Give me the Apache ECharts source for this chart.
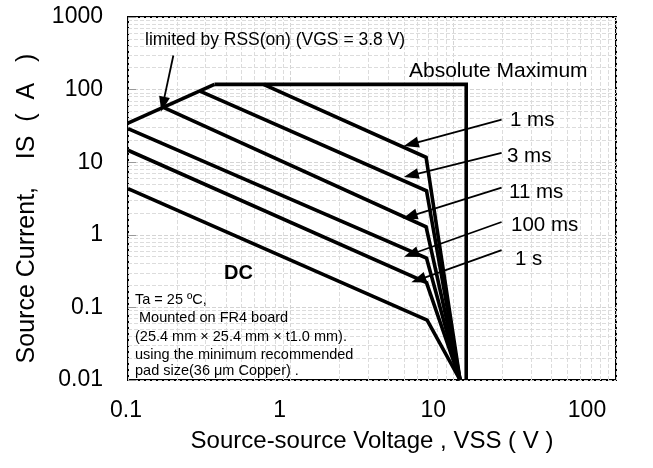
<!DOCTYPE html>
<html>
<head>
<meta charset="utf-8">
<script src="https://cdn.jsdelivr.net/npm/echarts/dist/echarts.min.js"></script>
<style>
  html, body { margin: 0; padding: 0; background: #fff; }
  #main { width: 653px; height: 468px; }
</style>
</head>
<body>
<div id="main"></div>
<script>
// safe operating area (V, A)
const rssLimit = [[0.1, 34.5], [0.34, 118]];
const absMax = [[0.34, 118], [12, 118], [12, 0.01]];
const pulse1ms = [[0.68, 118], [6.8, 11.7], [11, 0.01]];
const pulse3ms = [[0.277, 95.5], [6.84, 4.04], [11, 0.01]];
const pulse11ms = [[0.165, 57], [6.8, 1.29], [11, 0.01]];
const pulse100ms = [[0.1, 29], [6.84, 0.477], [11, 0.01]];
const pulse1s = [[0.1, 14.6], [6.84, 0.219], [11, 0.01]];
const pulseDC = [[0.1, 4.33], [6.9, 0.0669], [11, 0.01]];

const xDecades = [0.1, 1, 10, 100];
const yDecades = [0.01, 0.1, 1, 10, 100, 1000];
const minorSteps = [2, 3, 4, 5, 6, 7, 8, 9];

// arrows: [tail, tip] in data coords
const arrowRss = [[0.19, 295], [0.164, 63]];
const arrowPulse = [
  [[19.8, 38.5], [5.5, 17.8]],
  [[19.8, 13.4], [5.5, 6.6]],
  [[19.8, 4.48], [5.4, 1.8]],
  [[19.8, 1.5], [5.5, 0.54]],
  [[19.8, 0.614], [6.1, 0.24]],
];
const pulseLabels = ["1 ms", "3 ms", "11 ms", "100 ms", "1 s"];
const noteLines = [
  "Ta = 25 ºC,",
  " Mounted on FR4 board",
  "(25.4 mm × 25.4 mm × t1.0 mm).",
  "using the minimum recommended",
  "pad size(36 μm Copper) .",
];

const FONT = "'Liberation Sans', Arial, sans-serif";

let minorX = [];
xDecades.slice(0, 3).forEach(function (d) {
  minorSteps.forEach(function (s) { minorX.push({ xAxis: d * s }); });
});
let minorY = [];
yDecades.slice(0, 5).forEach(function (d) {
  minorSteps.forEach(function (s) { minorY.push({ yAxis: d * s }); });
});

function curve(data) {
  return {
    type: "line",
    data: data,
    symbol: "none",
    silent: true,
    z: 3,
    lineStyle: { color: "#000", width: 3.6, join: "miter" },
  };
}

function fmt(v) {
  return String(Number(v.toPrecision(3)));
}

// x labels sit a bit left of their ticks in the original
const xLabelShift = [4, 22, 40, 58];
let xRich = {};
xLabelShift.forEach(function (s, i) {
  xRich["l" + i] = { fontSize: 23, fontFamily: FONT, color: "#000", padding: [0, s, 0, 0] };
});

function txt(x, y, text, font) {
  return {
    type: "text", x: x, y: y, z: 10,
    style: { text: text, font: font, fill: "#000", textVerticalAlign: "middle" },
  };
}

let pulseTexts = [[510, 120], [507, 156], [509, 192], [511, 225], [515, 259]].map(function (p, i) {
  return txt(p[0], p[1], pulseLabels[i], "20.5px " + FONT);
});
let noteTexts = [300, 317.5, 336.5, 355, 371].map(function (y, i) {
  return txt(135, y, noteLines[i], "14.5px " + FONT);
});

let chart = echarts.init(document.getElementById("main"));
chart.setOption({
  backgroundColor: "#fff",
  animation: false,
  grid: {
    left: 128, top: 17, width: 488, height: 363,
    show: true, borderColor: "#000", borderWidth: 2, backgroundColor: "#fff",
  },
  xAxis: {
    type: "log",
    logBase: 10,
    min: 0.1,
    max: 100,
    name: "Source-source Voltage , VSS ( V )",
    nameLocation: "middle",
    nameGap: 49,
    nameTextStyle: { fontSize: 24, fontFamily: FONT, color: "#000" },
    axisLine: { show: false },
    axisTick: { show: false },
    axisLabel: {
      margin: 19,
      formatter: function (v) {
        let k = Math.round(Math.log10(v));
        return "{l" + (k + 1) + "|" + fmt(v) + "}";
      },
      rich: xRich,
    },
    splitLine: { show: true, lineStyle: { color: "#d4d4d4", width: 1, type: [4, 2] } },
  },
  yAxis: {
    type: "log",
    logBase: 10,
    min: 0.01,
    max: 1000,
    name: "Source Current,    IS  (  A   )",
    nameLocation: "middle",
    nameGap: 88,
    nameTextStyle: { fontSize: 25, fontFamily: FONT, color: "#000", padding: [0, 20, 0, 0] },
    axisLine: { show: false },
    axisTick: { show: true, inside: true, length: 8, lineStyle: { color: "#999" } },
    axisLabel: { margin: 25, fontSize: 23, fontFamily: FONT, color: "#000", formatter: fmt },
    splitLine: { show: true, lineStyle: { color: "#d4d4d4", width: 1, type: [4, 2] } },
  },
  series: [
    {
      type: "line",
      data: [],
      silent: true,
      z: 1,
      markLine: {
        silent: true,
        z: 1,
        symbol: ["none", "none"],
        label: { show: false },
        lineStyle: { color: "#dcdcdc", width: 1, type: [4, 2] },
        data: minorX.concat(minorY),
      },
    },
    curve(rssLimit),
    curve(absMax),
    curve(pulse1ms),
    curve(pulse3ms),
    curve(pulse11ms),
    curve(pulse100ms),
    curve(pulse1s),
    curve(pulseDC),
    {
      type: "line",
      data: [],
      silent: true,
      markLine: {
        silent: true,
        z: 6,
        symbol: ["none", "triangle"],
        symbolSize: [11, 15],
        label: { show: false },
        itemStyle: { color: "#000" },
        lineStyle: { color: "#000", width: 1.8, type: "solid" },
        data: [arrowRss].concat(arrowPulse).map(function (a) {
          return [{ coord: a[0] }, { coord: a[1] }];
        }),
      },
    },
  ],
  graphic: [
    txt(145, 40, "limited by RSS(on) (VGS = 3.8 V)", "17.5px " + FONT),
    txt(409, 71, "Absolute Maximum", "21px " + FONT),
    txt(224, 273, "DC", "bold 20px " + FONT),
  ].concat(pulseTexts, noteTexts),
});
</script>
</body>
</html>
